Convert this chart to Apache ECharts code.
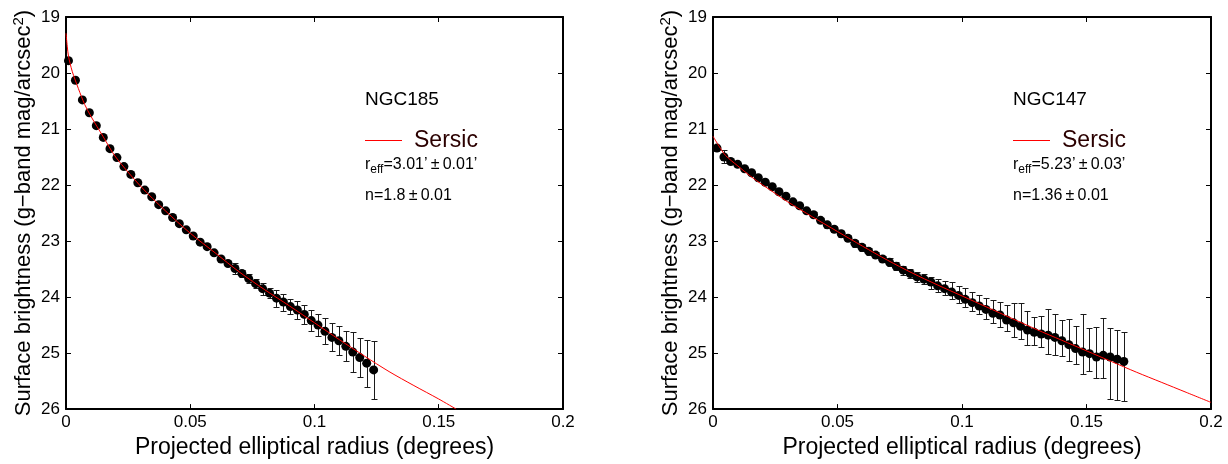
<!DOCTYPE html>
<html>
<head>
<meta charset="utf-8">
<script src="https://cdn.jsdelivr.net/npm/echarts@6/dist/echarts.min.js"></script>
<style>
html, body { margin: 0; padding: 0; background: #fff; }
#main { width: 1228px; height: 464px; }
</style>
</head>
<body>
<div id="main"></div>
<script>
// ---- NGC185 (left panel) ----
var ngc185X = [0.0010, 0.0038, 0.0066, 0.0094, 0.0122, 0.0150, 0.0177, 0.0205, 0.0233, 0.0261,
  0.0289, 0.0317, 0.0345, 0.0373, 0.0401, 0.0429, 0.0456, 0.0484, 0.0512, 0.0540,
  0.0568, 0.0596, 0.0624, 0.0652, 0.0680, 0.0708, 0.0735, 0.0763, 0.0791, 0.0819,
  0.0847, 0.0875, 0.0903, 0.0931, 0.0959, 0.0987, 0.1014, 0.1042, 0.1070, 0.1098,
  0.1126, 0.1154, 0.1182, 0.1210, 0.1238];
var ngc185Y = [19.78, 20.13, 20.48, 20.71, 20.94, 21.15, 21.35, 21.51, 21.67, 21.81,
  21.96, 22.09, 22.21, 22.35, 22.46, 22.58, 22.69, 22.80, 22.91, 23.02,
  23.10, 23.21, 23.32, 23.40, 23.49, 23.58, 23.67, 23.76, 23.85, 23.93,
  24.02, 24.09, 24.17, 24.23, 24.31, 24.42, 24.50, 24.61, 24.72, 24.78,
  24.88, 24.98, 25.08, 25.18, 25.30];
var ngc185Err = [0.02, 0.02, 0.02, 0.02, 0.02, 0.02, 0.02, 0.02, 0.02, 0.02,
  0.02, 0.02, 0.03, 0.03, 0.03, 0.03, 0.03, 0.03, 0.03, 0.03,
  0.04, 0.04, 0.04, 0.05, 0.09, 0.065, 0.08, 0.08, 0.11, 0.09,
  0.15, 0.15, 0.14, 0.16, 0.17, 0.19, 0.20, 0.23, 0.25, 0.26,
  0.27, 0.36, 0.35, 0.42, 0.52];
var ngc185FitX = [0, 0.0005, 0.001, 0.0025, 0.005, 0.0075, 0.01, 0.015, 0.02, 0.03, 0.04, 0.05,
  0.06, 0.07, 0.08, 0.09, 0.1, 0.11, 0.12, 0.13, 0.14, 0.15, 0.157];
var ngc185FitY = [19.29, 19.52, 19.70, 19.97, 20.28, 20.56, 20.77, 21.14, 21.50, 22.02, 22.46, 22.86,
  23.21, 23.56, 23.87, 24.16, 24.46, 24.76, 25.05, 25.33, 25.58, 25.82, 26.0];

// ---- NGC147 (right panel) ----
var ngc147X = [0.0016, 0.0044, 0.0071, 0.0099, 0.0127, 0.0155, 0.0182, 0.0210, 0.0238, 0.0265,
  0.0293, 0.0321, 0.0348, 0.0376, 0.0404, 0.0432, 0.0459, 0.0487, 0.0515, 0.0542,
  0.0570, 0.0598, 0.0625, 0.0653, 0.0681, 0.0709, 0.0736, 0.0764, 0.0792, 0.0819,
  0.0847, 0.0875, 0.0902, 0.0930, 0.0958, 0.0986, 0.1013, 0.1041, 0.1069, 0.1096,
  0.1124, 0.1152, 0.1179, 0.1207, 0.1235, 0.1263, 0.1290, 0.1318, 0.1346, 0.1373,
  0.1401, 0.1429, 0.1456, 0.1484, 0.1512, 0.1540, 0.1567, 0.1595, 0.1623, 0.1650];
var ngc147Y = [21.34, 21.50, 21.58, 21.63, 21.71, 21.78, 21.87, 21.95, 22.03, 22.12,
  22.20, 22.30, 22.37, 22.46, 22.53, 22.63, 22.71, 22.79, 22.87, 22.95,
  23.04, 23.11, 23.18, 23.25, 23.32, 23.38, 23.45, 23.52, 23.58, 23.64,
  23.68, 23.73, 23.80, 23.85, 23.91, 23.97, 24.04, 24.10, 24.16, 24.22,
  24.29, 24.32, 24.41, 24.46, 24.52, 24.59, 24.63, 24.66, 24.68, 24.72,
  24.78, 24.85, 24.92, 24.98, 25.01, 25.07, 25.04, 25.07, 25.11, 25.15];
var ngc147ErrMinus = [0.04, 0.12, 0.03, 0.03, 0.03, 0.03, 0.03, 0.03, 0.03, 0.03,
  0.03, 0.04, 0.04, 0.04, 0.04, 0.04, 0.05, 0.05, 0.05, 0.05,
  0.06, 0.06, 0.06, 0.06, 0.06, 0.07, 0.07, 0.08, 0.08, 0.09,
  0.09, 0.09, 0.12, 0.14, 0.18, 0.17, 0.20, 0.19, 0.20, 0.20,
  0.23, 0.24, 0.26, 0.36, 0.41, 0.35, 0.28, 0.32, 0.47, 0.41,
  0.37, 0.45, 0.41, 0.68, 0.45, 0.53, 0.67, 0.51, 0.53, 0.53];
var ngc147ErrPlus = [0.04, 0.11, 0.03, 0.03, 0.03, 0.03, 0.03, 0.03, 0.03, 0.03,
  0.03, 0.04, 0.04, 0.04, 0.04, 0.04, 0.05, 0.05, 0.05, 0.05,
  0.06, 0.06, 0.06, 0.06, 0.06, 0.07, 0.07, 0.08, 0.08, 0.09,
  0.09, 0.12, 0.11, 0.11, 0.12, 0.13, 0.14, 0.15, 0.15, 0.18,
  0.17, 0.21, 0.20, 0.25, 0.22, 0.26, 0.23, 0.24, 0.33, 0.32,
  0.27, 0.30, 0.28, 0.40, 0.31, 0.37, 0.41, 0.75, 0.72, 0.70];
var ngc147FitX = [0, 0.0025, 0.005, 0.0075, 0.01, 0.015, 0.02, 0.025, 0.03, 0.04, 0.05, 0.06, 0.07,
  0.08, 0.09, 0.1, 0.11, 0.12, 0.13, 0.14, 0.15, 0.16, 0.17, 0.18, 0.19, 0.2];
var ngc147FitY = [21.13, 21.31, 21.47, 21.57, 21.66, 21.84, 22.00, 22.15, 22.30, 22.57, 22.83, 23.09, 23.34,
  23.57, 23.78, 23.98, 24.18, 24.38, 24.58, 24.77, 24.96, 25.15, 25.34, 25.52, 25.70, 25.88];

var xTicks = [0, 0.05, 0.1, 0.15, 0.2];
var yTicks = [19, 20, 21, 22, 23, 24, 25, 26];

var FONT = '"Liberation Sans", Arial, sans-serif';
var chart = echarts.init(document.getElementById('main'));

function zip(a, b) {
  return a.map(function (v, i) { return [v, b[i]]; });
}

function errRender(params, api) {
  var x = api.value(0);
  var p1 = api.coord([x, api.value(1)]);
  var p2 = api.coord([x, api.value(2)]);
  var cx = Math.round(p1[0]) + 0.5;
  var y1 = Math.round(p1[1]) + 0.5, y2 = Math.round(p2[1]) + 0.5;
  var w = 3;
  var st = { stroke: '#1a1a1a', lineWidth: 1, fill: null };
  return {
    type: 'group',
    children: [
      { type: 'line', shape: { x1: cx, y1: y1, x2: cx, y2: y2 }, style: st },
      { type: 'line', shape: { x1: cx - w, y1: y1, x2: cx + w, y2: y1 }, style: st },
      { type: 'line', shape: { x1: cx - w, y1: y2, x2: cx + w, y2: y2 }, style: st }
    ]
  };
}

function xAx(gi, pos) {
  var main = pos === 'bottom';
  return {
    type: 'value', gridIndex: gi, position: pos,
    min: xTicks[0], max: xTicks[xTicks.length - 1], interval: 0.05,
    name: main ? 'Projected elliptical radius (degrees)' : '',
    nameLocation: 'middle', nameGap: 21,
    nameTextStyle: { fontFamily: FONT, fontSize: 23, color: '#000' },
    axisLine: { show: true, onZero: false, lineStyle: { color: '#000', width: 2 } },
    axisTick: { show: true, inside: true, length: 5, lineStyle: { color: '#000', width: 1 } },
    axisLabel: { show: main, fontFamily: FONT, fontSize: 17, color: '#000', margin: 5 },
    splitLine: { show: false }
  };
}

function yAx(gi, pos) {
  var main = pos === 'left';
  return {
    type: 'value', gridIndex: gi, position: pos, inverse: true,
    min: yTicks[0], max: yTicks[yTicks.length - 1], interval: 1,
    name: main ? '{a|Surface brightness (g\u2212band mag/arcsec}{s|2}{a|)}' : '',
    nameLocation: 'middle', nameRotate: 90, nameGap: 29,
    nameTextStyle: {
      fontFamily: FONT, color: '#000',
      rich: {
        a: { fontFamily: FONT, fontSize: 22, lineHeight: 26, color: '#000', verticalAlign: 'middle' },
        s: { fontFamily: FONT, fontSize: 15, lineHeight: 26, color: '#000', verticalAlign: 'top' }
      }
    },
    axisLine: { show: true, onZero: false, lineStyle: { color: '#000', width: 2 } },
    axisTick: { show: true, inside: true, length: 5, lineStyle: { color: '#000', width: 1 } },
    axisLabel: { show: main, fontFamily: FONT, fontSize: 17, color: '#000', margin: 6 },
    splitLine: { show: false }
  };
}

function panelSeries(k, xs, ys, lo, hi, fx, fy) {
  var errData = xs.map(function (x, i) { return [x, lo[i], hi[i]]; });
  return [
    {
      type: 'custom', xAxisIndex: 2 * k, yAxisIndex: 2 * k,
      renderItem: errRender, data: errData, silent: true, z: 2,
      encode: { x: 0, y: [1, 2] }
    },
    {
      type: 'scatter', xAxisIndex: 2 * k, yAxisIndex: 2 * k,
      data: zip(xs, ys), symbol: 'circle', symbolSize: 9,
      itemStyle: { color: '#000', opacity: 1 }, silent: true, z: 3
    },
    {
      type: 'line', name: 'Sersic', xAxisIndex: 2 * k, yAxisIndex: 2 * k,
      data: zip(fx, fy), showSymbol: false, smooth: 0.3,
      lineStyle: { color: '#ff0000', width: 1 }, silent: true, z: 4
    }
  ];
}

var lo185 = ngc185Y.map(function (v, i) { return v - ngc185Err[i]; });
var hi185 = ngc185Y.map(function (v, i) { return v + ngc185Err[i]; });
var lo147 = ngc147Y.map(function (v, i) { return v - ngc147ErrMinus[i]; });
var hi147 = ngc147Y.map(function (v, i) { return v + ngc147ErrPlus[i]; });

function panelText(x0, name, reff, n) {
  var rich = {
    a: { fontFamily: FONT, fontSize: 16, lineHeight: 22, fill: '#000', verticalAlign: 'middle' },
    b: { fontFamily: FONT, fontSize: 12, lineHeight: 22, fill: '#000', verticalAlign: 'bottom' }
  };
  return [
    { type: 'text', left: x0, top: 90, style: { text: name, font: '19px ' + FONT, fill: '#000' } },
    { type: 'line', shape: { x1: x0, y1: 140.5, x2: x0 + 37, y2: 140.5 }, style: { stroke: '#ff0000', lineWidth: 1 } },
    { type: 'text', left: x0 + 49, top: 129, style: { text: 'Sersic', font: '23px ' + FONT, fill: '#2b0000' } },
    { type: 'text', left: x0, top: 157, style: { text: '{a|r}{b|eff}{a|=' + reff + '}', rich: rich } },
    { type: 'text', left: x0, top: 188, style: { text: 'n=' + n, font: '16px ' + FONT, fill: '#000' } }
  ];
}

var option = {
  backgroundColor: '#fff',
  animation: false,
  grid: [
    { left: 66, top: 17, width: 497, height: 393 },
    { left: 713, top: 17, width: 498, height: 393 }
  ],
  xAxis: [xAx(0, 'bottom'), xAx(0, 'top'), xAx(1, 'bottom'), xAx(1, 'top')],
  yAxis: [yAx(0, 'left'), yAx(0, 'right'), yAx(1, 'left'), yAx(1, 'right')],
  series: panelSeries(0, ngc185X, ngc185Y, lo185, hi185, ngc185FitX, ngc185FitY)
    .concat(panelSeries(1, ngc147X, ngc147Y, lo147, hi147, ngc147FitX, ngc147FitY)),
  graphic: panelText(365, 'NGC185', '3.01\u2019\u2009\u00b1\u20090.01\u2019', '1.8\u2009\u00b1\u20090.01')
    .concat(panelText(1013, 'NGC147', '5.23\u2019\u2009\u00b1\u20090.03\u2019', '1.36\u2009\u00b1\u20090.01'))
};

chart.setOption(option);
</script>
</body>
</html>
